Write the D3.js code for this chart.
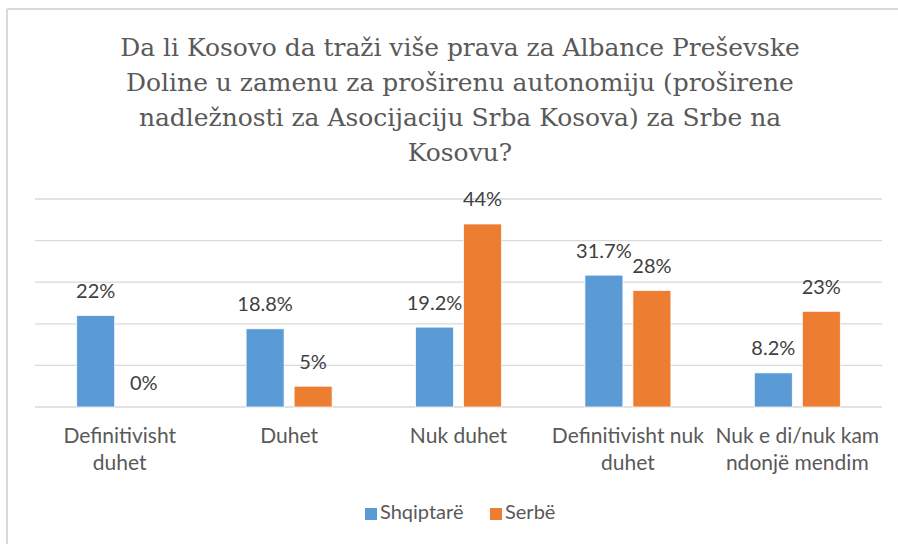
<!DOCTYPE html>
<html>
<head>
<meta charset="utf-8">
<script src="https://cdn.jsdelivr.net/npm/d3@7"></script>
<style>
  html, body { margin: 0; padding: 0; background: #ffffff; }
  svg { display: block; }
</style>
</head>
<body>
<svg id="chart" width="898" height="544"></svg>
<script>
// ---- data ----
const titleLines = [
  "Da li Kosovo da traži više prava za Albance Preševske",
  "Doline u zamenu za proširenu autonomiju (proširene",
  "nadležnosti za Asocijaciju Srba Kosova) za Srbe na",
  "Kosovu?"
];
const categories = [
  "Definitivisht duhet",
  "Duhet",
  "Nuk duhet",
  "Definitivisht nuk duhet",
  "Nuk e di/nuk kam ndonjë mendim"
];
const categoryLines = [
  ["Definitivisht", "duhet"],
  ["Duhet"],
  ["Nuk duhet"],
  ["Definitivisht nuk", "duhet"],
  ["Nuk e di/nuk kam", "ndonjë mendim"]
];
const seriesNames = ["Shqiptarë", "Serbë"];
const shqiptare = [22, 18.8, 19.2, 31.7, 8.2];
const serbe = [0, 5, 44, 28, 23];
const seriesValues = [shqiptare, serbe];
const colors = ["#5B9BD5", "#ED7D31"];
const yTicks = [0, 10, 20, 30, 40, 50];

// ---- layout ----
const svg = d3.select("#chart");
const plotLeft = 35, plotRight = 882, plotTop = 199, plotBottom = 407;

// frame (cropped chart border)
svg.append("line").attr("x1", 7).attr("x2", 898).attr("y1", 9).attr("y2", 9)
  .attr("stroke", "#d9d9d9").attr("stroke-width", 2);
svg.append("line").attr("x1", 7).attr("x2", 7).attr("y1", 9).attr("y2", 544)
  .attr("stroke", "#d9d9d9").attr("stroke-width", 2);

// title
const title = svg.append("text")
  .attr("text-anchor", "middle")
  .attr("fill", "#595959")
  .style("font-family", "'DejaVu Serif', serif")
  .style("font-size", "24px");
titleLines.forEach((t, i) => {
  title.append("tspan").attr("x", 460).attr("y", 56 + i * 35).text(t);
});
// fit title width to the reference line width
const firstLen = title.select("tspan").node().getComputedTextLength();
title.style("font-size", (24 * 680 / firstLen) + "px");

// scales
const x0 = d3.scaleBand().domain(categories).range([plotLeft, plotRight]);
const groupW = 86;
const x1 = d3.scaleBand().domain(seriesNames).range([0, groupW]).paddingInner(10 / 48);
const y = d3.scaleLinear().domain([0, 50]).range([plotBottom, plotTop]);

// gridlines
svg.append("g").selectAll("line").data(yTicks).join("line")
  .attr("x1", plotLeft).attr("x2", plotRight)
  .attr("y1", d => y(d)).attr("y2", d => y(d))
  .attr("stroke", "#d9d9d9").attr("stroke-width", 1.3);

// bars
const rows = [];
categories.forEach((c, i) => {
  seriesNames.forEach((s, j) => {
    rows.push({ cat: c, series: s, value: seriesValues[j][i], color: colors[j] });
  });
});
const gx = c => x0(c) + (x0.bandwidth() - groupW) / 2;

svg.append("g").selectAll("rect").data(rows.filter(d => d.value > 0)).join("rect")
  .attr("x", d => gx(d.cat) + x1(d.series))
  .attr("y", d => y(d.value))
  .attr("width", x1.bandwidth())
  .attr("height", d => y(0) - y(d.value))
  .attr("fill", d => d.color)
  .attr("stroke", "#ffffff").attr("stroke-width", 0.75);

// data labels
svg.append("g").selectAll("text").data(rows).join("text")
  .attr("x", d => gx(d.cat) + x1(d.series) + x1.bandwidth() / 2)
  .attr("y", d => y(d.value) - 17.5)
  .attr("text-anchor", "middle")
  .attr("fill", "#404040")
  .style("font-family", "Lato, sans-serif")
  .style("font-size", "20px")
  .text(d => d.value + "%");

// category labels
const catG = svg.append("g");
categories.forEach((c, i) => {
  const t = catG.append("text")
    .attr("text-anchor", "middle")
    .attr("fill", "#595959")
    .style("font-family", "Lato, sans-serif")
    .style("font-size", "21px");
  categoryLines[i].forEach((line, k) => {
    t.append("tspan").attr("x", x0(c) + x0.bandwidth() / 2).attr("y", 443 + k * 27).text(line);
  });
});

// legend
const legend = svg.append("g");
const legendItems = [{ x: 365 }, { x: 490 }];
seriesNames.forEach((s, j) => {
  legend.append("rect").attr("x", legendItems[j].x).attr("y", 508)
    .attr("width", 12).attr("height", 12).attr("fill", colors[j]);
  legend.append("text").attr("x", legendItems[j].x + 15).attr("y", 519)
    .attr("fill", "#595959")
    .style("font-family", "Lato, sans-serif")
    .style("font-size", "20px")
    .text(s);
});
</script>
</body>
</html>
